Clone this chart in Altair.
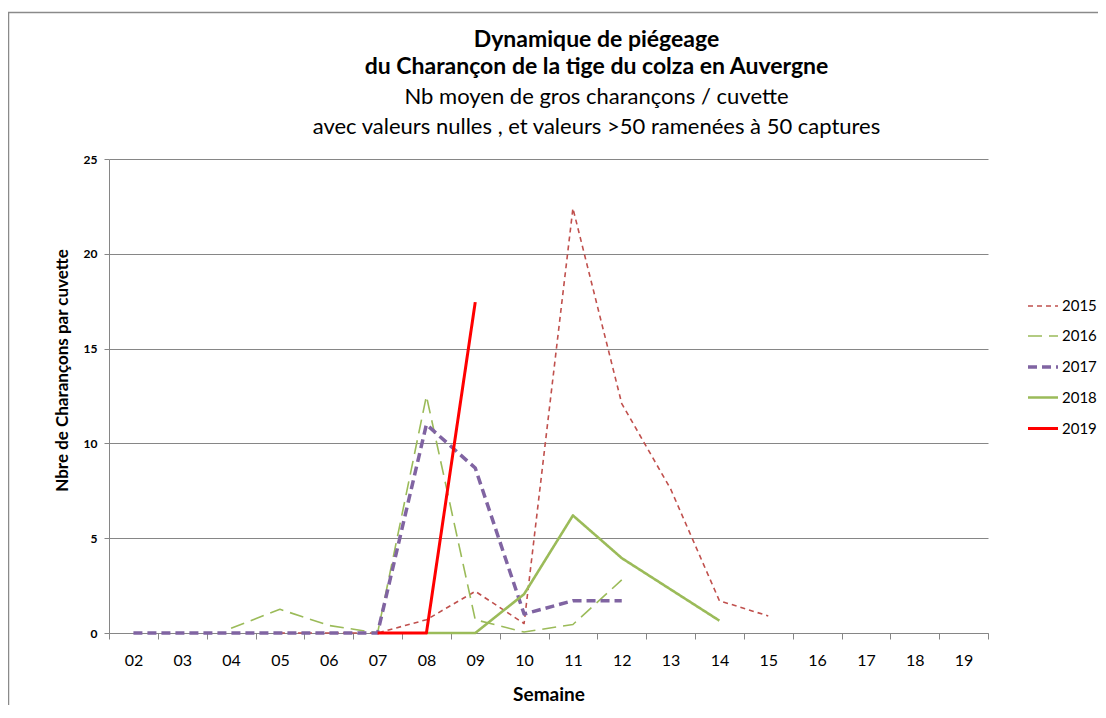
import altair as alt
import pandas as pd

weeks = ["02", "03", "04", "05", "06", "07", "08", "09", "10",
         "11", "12", "13", "14", "15", "16", "17", "18", "19"]
years = ["2015", "2016", "2017", "2018", "2019"]

v2015 = [None, None, None, 0, 0, 0, 0.7, 2.2, 0.5, 22.4, 12.1, 7.6, 1.7, 0.9, None, None, None, None]
v2016 = [None, None, 0.25, 1.25, 0.4, 0, 12.5, 0.7, 0.05, 0.45, 2.8, None, None, None, None, None, None, None]
v2017 = [0, 0, 0, 0, 0, 0, 11.0, 8.7, 1.0, 1.7, 1.7, None, None, None, None, None, None, None]
v2018 = [None, None, None, None, None, None, 0, 0, 2.05, 6.2, 3.95, 2.3, 0.65, None, None, None, None, None]
v2019 = [None, None, None, None, None, 0, 0, 17.45, None, None, None, None, None, None, None, None, None, None]

colors = ["#C0504D", "#9BBB59", "#8064A2", "#9BBB59", "#FF0000"]
dashes = [[5, 4], [14, 7], [9, 5], [1, 0], [1, 0]]
widths = [1.6, 1.6, 3.5, 2.6, 3.0]

rows = []
for yr, vals in zip(years, [v2015, v2016, v2017, v2018, v2019]):
    for w, v in zip(weeks, vals):
        if v is not None:
            rows.append({"Semaine": w, "Année": yr, "valeur": v})
df = pd.DataFrame(rows)

FONT = "Lato"


def legend():
    return alt.Legend(title=None, orient="none", legendX=917, legendY=131,
                      symbolType="stroke", symbolSize=900,
                      labelFontSize=15, labelFont=FONT, labelColor="black",
                      rowPadding=6, labelOffset=2)


frame = alt.Chart(alt.Data(values=[{"a": 1}])).mark_rect(
    fill="white", fillOpacity=0, stroke="#8a8a8a", strokeWidth=1.5
).encode(
    x=alt.value(-100.5), x2=alt.value(1200),
    y=alt.value(-146.5), y2=alt.value(800),
)

lines = alt.Chart(df).mark_line(strokeJoin="round").encode(
    x=alt.X("Semaine:N", sort=weeks, bandPosition=0.5,
            scale=alt.Scale(type="band", domain=weeks, paddingInner=0, paddingOuter=0),
            axis=alt.Axis(title="Semaine", tickBand="extent", labelAngle=0,
                          labelFontSize=16, labelPadding=13, tickSize=6,
                          tickColor="#868686", domainColor="#868686",
                          titleFontSize=19, titleFontWeight="bold", titlePadding=17,
                          grid=False, labelFont=FONT, titleFont=FONT, labelColor="black",
                          titleColor="black")),
    y=alt.Y("valeur:Q", scale=alt.Scale(domain=[0, 25]),
            axis=alt.Axis(title="Nbre de Charançons par cuvette", values=[0, 5, 10, 15, 20, 25],
                          labelFontSize=12, labelFontWeight="bold", labelPadding=7,
                          tickSize=5, tickColor="#868686", domainColor="#868686",
                          gridColor="#868686", gridWidth=1,
                          titleFontSize=17, titleFontWeight="bold",
                          titleX=-47, titleY=211, titleAngle=270,
                          titleAlign="center", titleBaseline="middle",
                          labelFont=FONT, titleFont=FONT, labelColor="black",
                          titleColor="black")),
    color=alt.Color("Année:N", scale=alt.Scale(domain=years, range=colors), legend=legend()),
    strokeDash=alt.StrokeDash("Année:N", scale=alt.Scale(domain=years, range=dashes), legend=legend()),
    strokeWidth=alt.StrokeWidth("Année:N", scale=alt.Scale(type="ordinal", domain=years, range=widths),
                                legend=legend()),
    order=alt.Order("Année:N"),
)

chart = alt.layer(frame, lines).properties(
    width=879, height=474,
    padding={"left": 101, "top": 151, "right": 110, "bottom": 72},
    autosize=alt.AutoSizeParams(type="none"),
    title=alt.TitleParams(
        text=["Dynamique de piégeage", "du Charançon de la tige du colza en Auvergne"],
        subtitle=["Nb moyen de gros charançons / cuvette",
                  "avec valeurs nulles , et valeurs >50 ramenées à 50 captures"],
        font=FONT, fontSize=23, fontWeight="bold", color="black", lineHeight=27,
        subtitleFont=FONT, subtitleFontSize=22, subtitleFontWeight="normal",
        subtitleColor="black", subtitleLineHeight=30, subtitlePadding=8,
        anchor="middle", dx=48, offset=-126,
    ),
).configure_view(stroke=None)

chart.save("out.html", embed_options={"renderer": "svg", "actions": False})
